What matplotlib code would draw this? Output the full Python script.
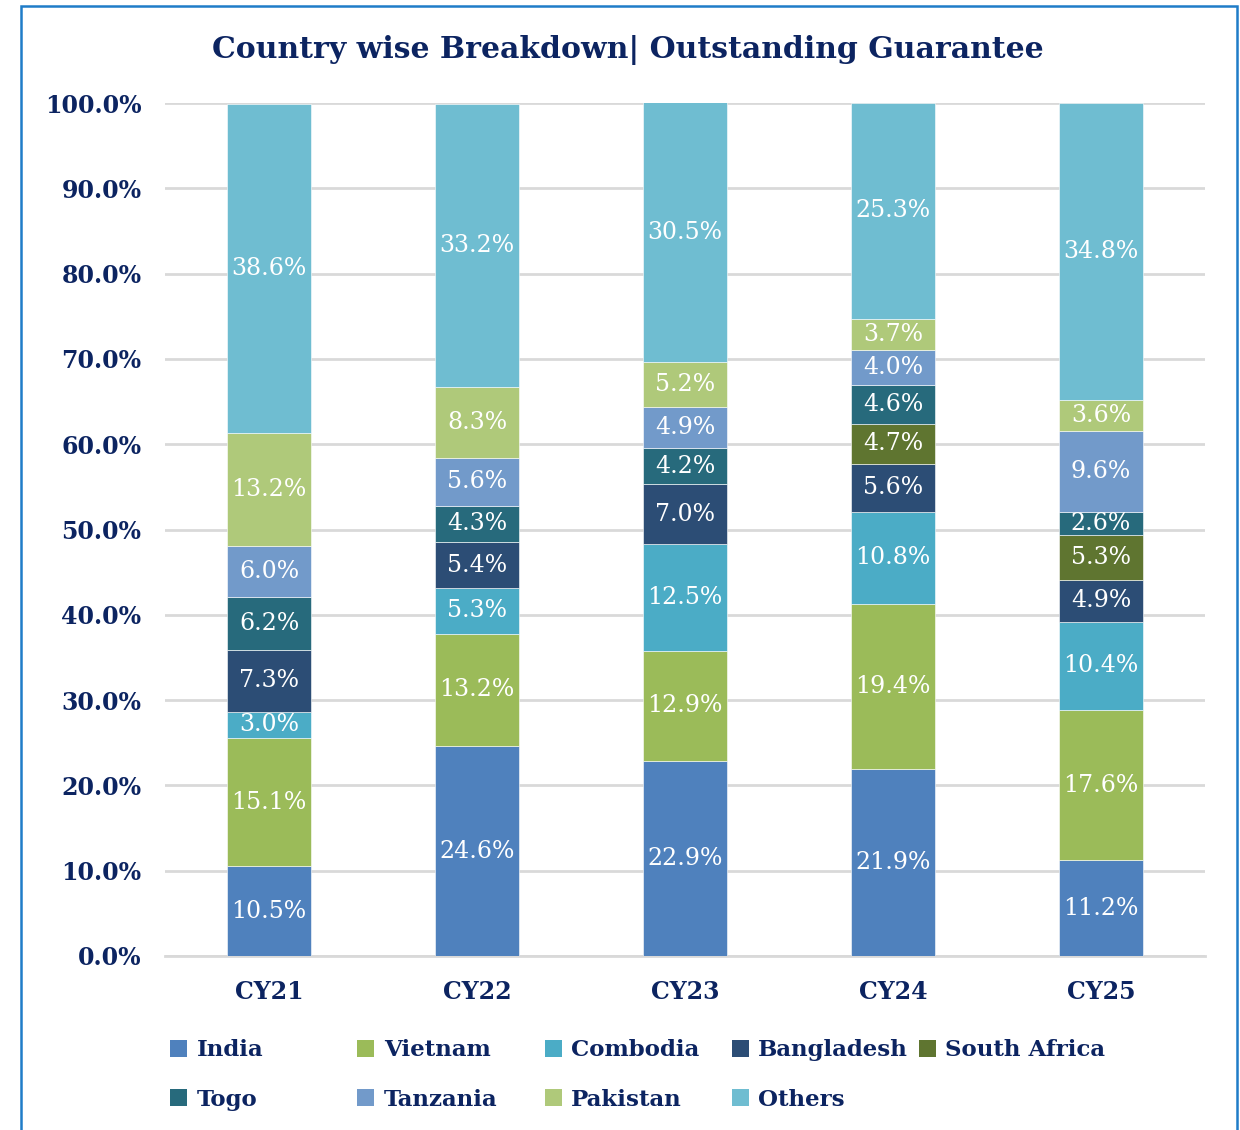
import numpy as np
import matplotlib.pyplot as plt
from matplotlib.patches import Rectangle, Patch

# categories and series (percent share)
years = ["CY21", "CY22", "CY23", "CY24", "CY25"]
countries = ["India", "Vietnam", "Combodia", "Bangladesh", "South Africa",
             "Togo", "Tanzania", "Pakistan", "Others"]
india = [10.5, 24.6, 22.9, 21.9, 11.2]
vietnam = [15.1, 13.2, 12.9, 19.4, 17.6]
combodia = [3.0, 5.3, 12.5, 10.8, 10.4]
bangladesh = [7.3, 5.4, 7.0, 5.6, 4.9]
south_africa = [0.0, 0.0, 0.0, 4.7, 5.3]
togo = [6.2, 4.3, 4.2, 4.6, 2.6]
tanzania = [6.0, 5.6, 4.9, 4.0, 9.6]
pakistan = [13.2, 8.3, 5.2, 3.7, 3.6]
others = [38.6, 33.2, 30.5, 25.3, 34.8]

series = [india, vietnam, combodia, bangladesh, south_africa,
          togo, tanzania, pakistan, others]
colors = ["#4F81BD", "#9BBB59", "#4BACC6", "#2C4D75", "#5F7530",
          "#276A7C", "#729ACA", "#AFC97A", "#6FBDD1"]

navy = "#0C2461"
font = "DejaVu Serif"

fig = plt.figure(figsize=(12.4, 11.3), dpi=100)
ax = fig.add_axes([0.1331, 0.154, 0.8387, 0.7548])

x = np.arange(len(years))
bottom = np.zeros(len(years))
for vals, col in zip(series, colors):
    vals = np.array(vals)
    bars = ax.bar(x, vals, width=0.4, bottom=bottom, color=col,
                  edgecolor="white", linewidth=0.4, zorder=3)
    for b, v, b0 in zip(bars, vals, bottom):
        if v > 0:
            ax.text(b.get_x() + b.get_width() / 2, b0 + v / 2, f"{v:.1f}%",
                    ha="center", va="center", color="white",
                    fontsize=17, family=font, zorder=4)
    bottom += vals

ax.set_xlim(-0.5, len(years) - 0.5)
ax.set_ylim(0, 100)
ax.set_yticks(np.arange(0, 101, 10))
ax.set_yticklabels([f"{v:.1f}%" for v in np.arange(0, 101, 10)])
ax.set_xticks(x)
ax.set_xticklabels(years)
ax.yaxis.grid(True, color="#D9D9D9", linewidth=2, zorder=0)
ax.axhline(0, color="#D9D9D9", linewidth=2, zorder=1, clip_on=False)
ax.set_axisbelow(True)
for s in ax.spines.values():
    s.set_visible(False)
ax.tick_params(length=0)
ax.tick_params(axis="y", pad=17)
ax.tick_params(axis="x", pad=17)
for lbl in ax.get_yticklabels() + ax.get_xticklabels():
    lbl.set_fontfamily(font)
    lbl.set_fontweight("bold")
    lbl.set_fontsize(17)
    lbl.set_color(navy)

fig.text(0.506, 0.956, "Country wise Breakdown| Outstanding Guarantee",
         ha="center", va="center", fontsize=21.5, fontweight="bold",
         family=font, color=navy)

# legend: 5 evenly spaced columns, two rows
handles = [Patch(facecolor=c, label=n) for c, n in zip(colors, countries)]
col_x = [0.1205, 0.2715, 0.4225, 0.5735, 0.7245]
for j, xj in enumerate(col_x):
    hs = [handles[j]] + ([handles[j + 5]] if j + 5 < len(handles) else [])
    leg = fig.legend(handles=hs, loc="upper left", bbox_to_anchor=(xj, 0.0985),
                     frameon=False, handlelength=0.75, handleheight=0.75,
                     handletextpad=0.4, labelspacing=1.2,
                     prop={"family": font, "weight": "bold", "size": 16.5})
    for t in leg.get_texts():
        t.set_color(navy)

# outer border
fig.add_artist(Rectangle((0.017, -0.05), 0.9805, 1.045, transform=fig.transFigure,
                         fill=False, edgecolor="#1F7CC8", linewidth=1.8))

fig.savefig("out.png", dpi=100)
